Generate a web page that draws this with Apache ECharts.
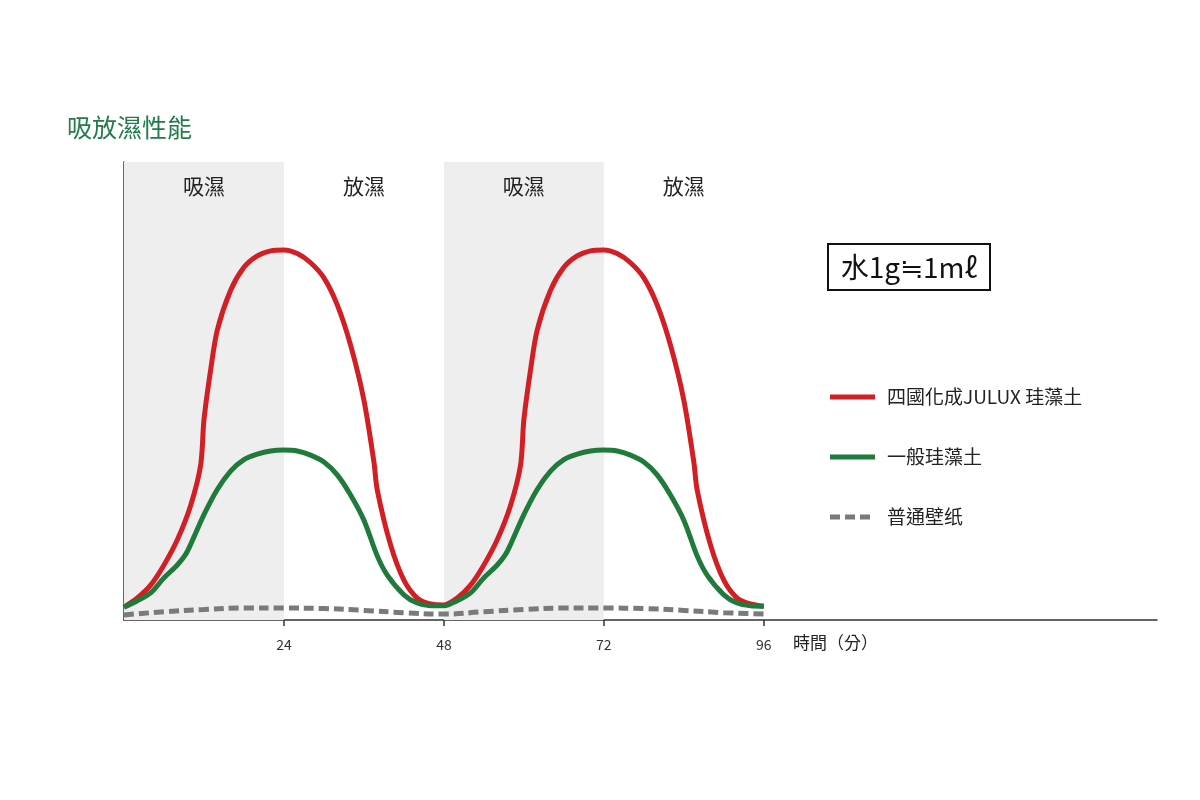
<!DOCTYPE html>
<html><head><meta charset="utf-8">
<script src="https://cdn.jsdelivr.net/npm/echarts@6/dist/echarts.min.js"></script>
<style>html,body{margin:0;background:#fff}#c{width:1200px;height:800px}</style>
</head><body><div id="c"></div>
<script>
const title = '吸放濕性能';
const xTicks = [24, 48, 72, 96];
const yTicks = [70.5];
const bands = [['吸濕',0,24,true],['放濕',24,48,false],['吸濕',48,72,true],['放濕',72,96,false]];
const seriesNames = ['四國化成JULUX 珪藻土','一般珪藻土','普通壁纸'];
const redHalf = [[0,2.8],[2,4.8],[4,7.6],[6,12],[8,17.5],[10,25],[11.5,33.8],[12,43.7],[13,54.6],[14,63.3],[16,72],[18,77],[20,79.5],[22,80.6],[24,80.8],[26,80],[28,78],[30,74.7],[32,68.8],[34,60],[36,48],[37.5,34.5],[38,28.4],[40,16.4],[42,8.7],[44,4.8],[46,3.5],[48,3.3]];
const redHalf2 = [[50,4.8],[52,7.6],[54,12],[56,17.5],[58,25],[59.5,33.8],[60,43.7],[61,54.6],[62,63.3],[64,72],[66,77],[68,79.5],[70,80.6],[72,80.8],[74,80],[76,78],[78,74.7],[80,68.8],[82,60],[84,48],[85.5,34.5],[86,28.4],[88,16.4],[90,8.7],[92,4.8],[94,3.5],[96,3.0]];
const greenHalf = [[0,2.8],[2,4.2],[4,5.9],[6,9.2],[8,12],[9.2,14.2],[10,16.5],[12,23],[14,28.5],[16,32.5],[18,35],[20,36.2],[22,36.9],[24,37.1],[26,36.9],[28,36],[30,34.5],[32,31.7],[34,27.3],[36,21.8],[38,14],[39.5,9.8],[42,5.5],[44,3.7],[46,3.1],[48,3.1]];
const greenHalf2 = [[50,4.2],[52,5.9],[54,9.2],[56,12],[57.2,14.2],[58,16.5],[60,23],[62,28.5],[64,32.5],[66,35],[68,36.2],[70,36.9],[72,37.1],[74,36.9],[76,36],[78,34.5],[80,31.7],[82,27.3],[84,21.8],[86,14],[87.5,9.8],[90,5.5],[92,3.7],[94,3.1],[96,3.0]];
const greyData = [[0,1.1],[6,1.8],[12,2.3],[18,2.6],[24,2.6],[30,2.5],[36,2.1],[42,1.6],[48,1.3],[54,1.8],[60,2.3],[66,2.6],[72,2.6],[78,2.5],[84,2.1],[90,1.6],[96,1.3]];
const redData = redHalf.concat(redHalf2);
const greenData = greenHalf.concat(greenHalf2);
const colors = ['#d21f26','#1f7a3c','#7a7a7a'];

const chart = echarts.init(document.getElementById('c'));
const font = '"Noto Sans CJK TC","Noto Sans CJK SC",sans-serif';
const legendG = [];
seriesNames.forEach((n,i)=>{
  const y = 397 + i*60;
  legendG.push({type:'line',shape:{x1:830,y1:y,x2:875,y2:y},style:{stroke:colors[i],lineWidth:5,lineDash:i===2?[10,5]:null}});
  legendG.push({type:'text',x:887,y:y,style:{text:n,fontSize:19,fill:'#222',verticalAlign:'middle',fontFamily:font}});
});
chart.setOption({
  animation:false,
  title:{text:title,left:62,top:110,textStyle:{color:'#237a4a',fontSize:25,fontWeight:'normal',fontFamily:font}},
  grid:{left:124,right:43,top:162,bottom:180},
  xAxis:{type:'value',min:0,max:155,interval:24,
    axisLine:{lineStyle:{color:'#333',width:1.5}},
    axisTick:{inside:false,length:6,lineStyle:{color:'#333',width:1.5},customValues:xTicks},
    axisLabel:{color:'#333',fontSize:14,margin:18,fontFamily:font,customValues:xTicks},
    splitLine:{show:false}},
  yAxis:{type:'value',min:0,max:100,
    axisLine:{show:true,lineStyle:{color:'#333',width:1.5}},
    axisTick:{show:true,inside:true,length:11,lineStyle:{color:'#333',width:1.5},customValues:yTicks},
    axisLabel:{show:false},splitLine:{show:false}},
  graphic:[
    {type:'group',left:827,top:243,children:[
      {type:'rect',shape:{x:0,y:0,width:162,height:46},style:{fill:'#fff',stroke:'#111',lineWidth:2}},
      {type:'text',x:81,y:23,style:{text:'水1g≒1mℓ',fontSize:28,fill:'#111',align:'center',verticalAlign:'middle',fontFamily:font}}
    ]},
    {type:'text',left:793,top:634,style:{text:'時間（分）',fontSize:17,fill:'#222',fontFamily:font}}
  ].concat(legendG),
  series:[
    {name:seriesNames[0],type:'line',data:redData,smooth:0.3,symbol:'none',
     lineStyle:{color:colors[0],width:5},itemStyle:{color:colors[0]},z:3,
     markArea:{silent:true,
       label:{position:['50%',14],align:'center',fontSize:21,color:'#222',fontFamily:font},
       data:bands.map(b=>[{name:b[0],xAxis:b[1],itemStyle:{color:b[3]?'#eeeeee':'rgba(0,0,0,0)'}},{xAxis:b[2]}])}},
    {name:seriesNames[1],type:'line',data:greenData,smooth:0.3,symbol:'none',
     lineStyle:{color:colors[1],width:5},itemStyle:{color:colors[1]},z:3},
    {name:seriesNames[2],type:'line',data:greyData,smooth:true,symbol:'none',
     lineStyle:{color:colors[2],width:5,type:[10,5]},itemStyle:{color:colors[2]},z:2}
  ]
});
</script></body></html>
